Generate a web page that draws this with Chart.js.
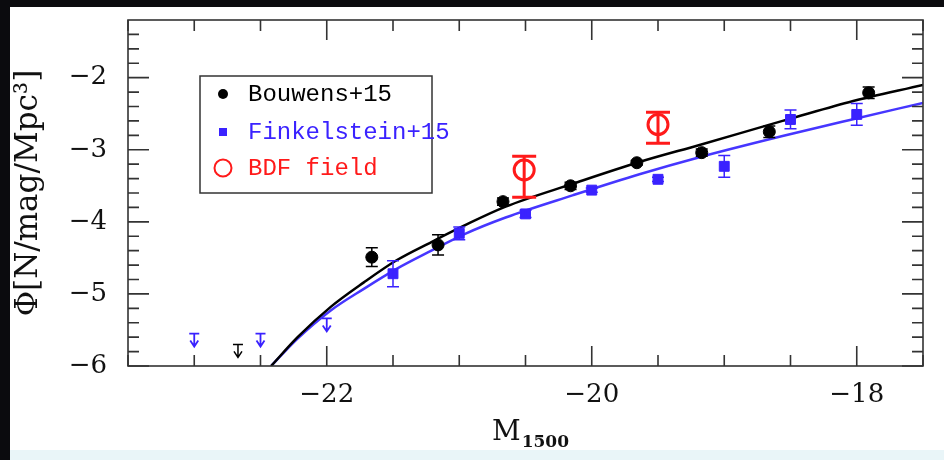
<!DOCTYPE html>
<html>
<head>
<meta charset="utf-8">
<script src="https://cdn.jsdelivr.net/npm/chart.js@4.4.1/dist/chart.umd.min.js"></script>
<style>
  html, body { margin: 0; padding: 0; }
  body { width: 944px; height: 460px; background: #0b0b0e; position: relative; overflow: hidden; }
  #panel { position: absolute; left: 10px; top: 7px; width: 934px; height: 443px; background: #fff; }
  #strip { position: absolute; left: 10px; top: 450px; width: 934px; height: 10px; background: #e9f5f8; }
</style>
</head>
<body>
<div id="panel"><canvas id="lf" width="934" height="443"></canvas></div>
<div id="strip"></div>
<script>
// Bouwens+15 (black points)
const bouwensX = [-21.66, -21.16, -20.67, -20.16, -19.66, -19.17, -18.66, -17.91];
const bouwensY = [-4.49, -4.32, -3.72, -3.50, -3.18, -3.04, -2.75, -2.21];
const bouwensErr = [0.13, 0.14, 0.05, 0.05, 0.03, 0.05, 0.08, 0.08];
const bouwensLimX = [-22.67];
const bouwensLimY = [-5.70];

// Finkelstein+15 (blue squares)
const finkX = [-21.50, -21.00, -20.50, -20.00, -19.50, -19.00, -18.50, -18.00];
const finkY = [-4.72, -4.16, -3.89, -3.56, -3.41, -3.23, -2.58, -2.51];
const finkErr = [0.18, 0.09, 0.05, 0.03, 0.03, 0.15, 0.13, 0.15];
const finkLimX = [-23.0, -22.5, -22.0];
const finkLimY = [-5.55, -5.55, -5.34];

// BDF field (red open circles, asymmetric errors)
const bdfX = [-20.51, -19.50];
const bdfY = [-3.28, -2.65];
const bdfErrUp = [0.19, 0.17];
const bdfErrDown = [0.38, 0.26];

// fitted curves
const fitBlackX = [-22.42, -22.22, -21.97, -21.72, -21.47, -21.21, -20.96, -20.65, -20.14, -19.64, -19.18, -18.56, -18.06, -17.5];
const fitBlackY = [-6.0, -5.60, -5.18, -4.84, -4.53, -4.28, -4.05, -3.79, -3.47, -3.17, -2.93, -2.60, -2.34, -2.10];
const fitBlueX = [-22.42, -22.22, -21.97, -21.72, -21.47, -21.21, -20.96, -20.65, -20.14, -19.64, -19.18, -18.56, -18.06, -17.5];
const fitBlueY = [-6.0, -5.62, -5.23, -4.93, -4.65, -4.40, -4.17, -3.94, -3.63, -3.34, -3.10, -2.81, -2.59, -2.35];

// axes
const xMajorTicks = [-22, -20, -18];
const xMinorTicks = [-23.5, -23, -22.5, -21.5, -21, -20.5, -19.5, -19, -18.5, -17.5];
const yMajorTicks = [-6, -5, -4, -3, -2];
const yMinorTicks = [-5.8, -5.6, -5.4, -5.2, -4.8, -4.6, -4.4, -4.2, -3.8, -3.6, -3.4, -3.2,
                     -2.8, -2.6, -2.4, -2.2, -1.8, -1.6, -1.4];

const legendLabels = ['Bouwens+15', 'Finkelstein+15', 'BDF field'];

const BLACK = '#000000';
const BLUE = '#3a22ff';
const BLUE_LINE = '#4636ff';
const RED = '#ff1a1a';
const SERIF = '"DejaVu Serif", "Liberation Serif", serif';

const pts = (xs, ys) => xs.map((x, i) => ({ x: x, y: ys[i] }));

// error bars and upper-limit arrows, drawn through the scales
const errorBars = {
  id: 'errorBars',
  afterDatasetsDraw(chart) {
    const { ctx, scales: { x, y } } = chart;
    ctx.save();
    chart.data.datasets.forEach(ds => {
      if (!ds.err && !ds.limit) return;
      ctx.strokeStyle = ds.barColor;
      ctx.fillStyle = ds.barColor;
      ctx.lineWidth = ds.barWidth;
      ds.data.forEach((p, i) => {
        const px = x.getPixelForValue(p.x);
        if (ds.limit) {
          const py = y.getPixelForValue(p.y);
          ctx.beginPath();
          ctx.moveTo(px - 5, py); ctx.lineTo(px + 5, py);
          ctx.moveTo(px, py); ctx.lineTo(px, py + 12);
          ctx.moveTo(px - 4, py + 7); ctx.lineTo(px, py + 13); ctx.lineTo(px + 4, py + 7);
          ctx.stroke();
          return;
        }
        const up = ds.err.up[i], dn = ds.err.down[i];
        const yt = y.getPixelForValue(p.y + up);
        const yb = y.getPixelForValue(p.y - dn);
        const c = ds.capHalf;
        ctx.beginPath();
        ctx.moveTo(px, yt); ctx.lineTo(px, yb);
        ctx.moveTo(px - c, yt); ctx.lineTo(px + c, yt);
        ctx.moveTo(px - c, yb); ctx.lineTo(px + c, yb);
        ctx.stroke();
      });
    });
    ctx.restore();
  }
};

// frame with inward ticks on all four sides, legend box and axis titles
const decorations = {
  id: 'decorations',
  afterDraw(chart) {
    const { ctx, chartArea: a, scales: { x, y } } = chart;
    ctx.save();
    ctx.strokeStyle = '#333';
    ctx.lineWidth = 1.6;
    ctx.strokeRect(a.left, a.top, a.right - a.left, a.bottom - a.top);
    ctx.beginPath();
    xMajorTicks.concat(xMinorTicks).forEach(v => {
      const px = x.getPixelForValue(v);
      const len = xMajorTicks.includes(v) ? 20 : 11;
      ctx.moveTo(px, a.top); ctx.lineTo(px, a.top + len);
      ctx.moveTo(px, a.bottom); ctx.lineTo(px, a.bottom - len);
    });
    yMajorTicks.concat(yMinorTicks).forEach(v => {
      const py = y.getPixelForValue(v);
      const len = yMajorTicks.includes(v) ? 21 : 11;
      ctx.moveTo(a.left, py); ctx.lineTo(a.left + len, py);
      ctx.moveTo(a.right, py); ctx.lineTo(a.right - len, py);
    });
    ctx.stroke();

    // legend
    const lx = 190, ly = 69;
    ctx.lineWidth = 1.5;
    ctx.strokeStyle = '#333';
    ctx.strokeRect(lx, ly, 232, 117);
    const rows = [ly + 18, ly + 56, ly + 92];
    const colors = [BLACK, BLUE, RED];
    ctx.font = '24px "Liberation Mono", "DejaVu Sans Mono", monospace';
    ctx.textBaseline = 'middle';
    ctx.textAlign = 'left';
    legendLabels.forEach((t, i) => {
      const mx = lx + 23, my = rows[i];
      ctx.fillStyle = colors[i];
      ctx.strokeStyle = colors[i];
      if (i === 0) {
        ctx.beginPath(); ctx.arc(mx, my, 5, 0, Math.PI * 2); ctx.fill();
      } else if (i === 1) {
        ctx.fillRect(mx - 4, my - 4, 8, 8);
      } else {
        ctx.lineWidth = 2;
        ctx.beginPath(); ctx.arc(mx, my, 8.5, 0, Math.PI * 2); ctx.stroke();
      }
      ctx.fillText(t, lx + 48, my + 1);
    });

    // x title with subscript
    ctx.fillStyle = '#111';
    ctx.textBaseline = 'alphabetic';
    ctx.font = '28px ' + SERIF;
    ctx.fillText('M', 482, 433);
    const mw = ctx.measureText('M').width;
    ctx.font = 'bold 17px ' + SERIF;
    ctx.fillText('1500', 482 + mw + 1, 440);

    // y title, rotated
    ctx.translate(19, (a.top + a.bottom) / 2);
    ctx.rotate(-Math.PI / 2);
    ctx.textAlign = 'center';
    ctx.textBaseline = 'middle';
    ctx.font = '31px ' + SERIF;
    ctx.fillText('\u03A6[N/mag/Mpc\u00B3]', 0, 0);
    ctx.restore();
  }
};

const minus = v => (v < 0 ? '\u2212' + Math.abs(v) : String(v));

new Chart(document.getElementById('lf'), {
  type: 'scatter',
  data: {
    datasets: [
      {
        label: 'BDF field', data: pts(bdfX, bdfY),
        pointStyle: 'circle', pointRadius: 10, pointBorderWidth: 3,
        borderColor: RED, backgroundColor: 'rgba(0,0,0,0)',
        err: { up: bdfErrUp, down: bdfErrDown }, barColor: RED, barWidth: 3, capHalf: 12
      },
      {
        label: 'Bouwens+15', data: pts(bouwensX, bouwensY),
        pointStyle: 'circle', pointRadius: 6, borderColor: BLACK, backgroundColor: BLACK,
        err: { up: bouwensErr, down: bouwensErr }, barColor: BLACK, barWidth: 1.5, capHalf: 6
      },
      {
        label: 'Finkelstein+15', data: pts(finkX, finkY),
        pointStyle: 'rect', pointRadius: 7, borderColor: BLUE, backgroundColor: BLUE,
        err: { up: finkErr, down: finkErr }, barColor: BLUE, barWidth: 1.5, capHalf: 6
      },
      {
        label: 'Bouwens+15 limits', data: pts(bouwensLimX, bouwensLimY),
        pointRadius: 0, limit: true, barColor: BLACK, barWidth: 1.5
      },
      {
        label: 'Finkelstein+15 limits', data: pts(finkLimX, finkLimY),
        pointRadius: 0, limit: true, barColor: BLUE, barWidth: 1.8
      },
      {
        label: 'Bouwens fit', data: pts(fitBlackX, fitBlackY),
        showLine: true, pointRadius: 0, borderColor: BLACK, borderWidth: 2.5,
        cubicInterpolationMode: 'monotone'
      },
      {
        label: 'Finkelstein fit', data: pts(fitBlueX, fitBlueY),
        showLine: true, pointRadius: 0, borderColor: BLUE_LINE, borderWidth: 2.5,
        cubicInterpolationMode: 'monotone'
      }
    ]
  },
  options: {
    responsive: false,
    animation: false,
    events: [],
    layout: { padding: { left: 0, right: 21, top: 12, bottom: 0 } },
    scales: {
      x: {
        type: 'linear', min: -23.5, max: -17.5,
        grid: { display: false, drawTicks: false },
        border: { display: false },
        afterBuildTicks: s => { s.ticks = xMajorTicks.map(v => ({ value: v })); },
        afterFit: s => { s.height = 84; s.paddingLeft = 0; s.paddingRight = 0; },
        ticks: {
          padding: 14, color: '#111', maxRotation: 0,
          font: { family: SERIF, size: 26 },
          callback: v => minus(v)
        }
      },
      y: {
        type: 'linear', min: -6, max: -1.2,
        grid: { display: false, drawTicks: false },
        border: { display: false },
        afterBuildTicks: s => { s.ticks = yMajorTicks.map(v => ({ value: v })); },
        afterFit: s => { s.width = 118; s.paddingTop = 0; s.paddingBottom = 0; },
        ticks: {
          padding: 21, color: '#111',
          font: { family: SERIF, size: 26 },
          callback: v => minus(v)
        }
      }
    },
    plugins: {
      legend: { display: false },
      tooltip: { enabled: false }
    }
  },
  plugins: [errorBars, decorations]
});
</script>
</body>
</html>
